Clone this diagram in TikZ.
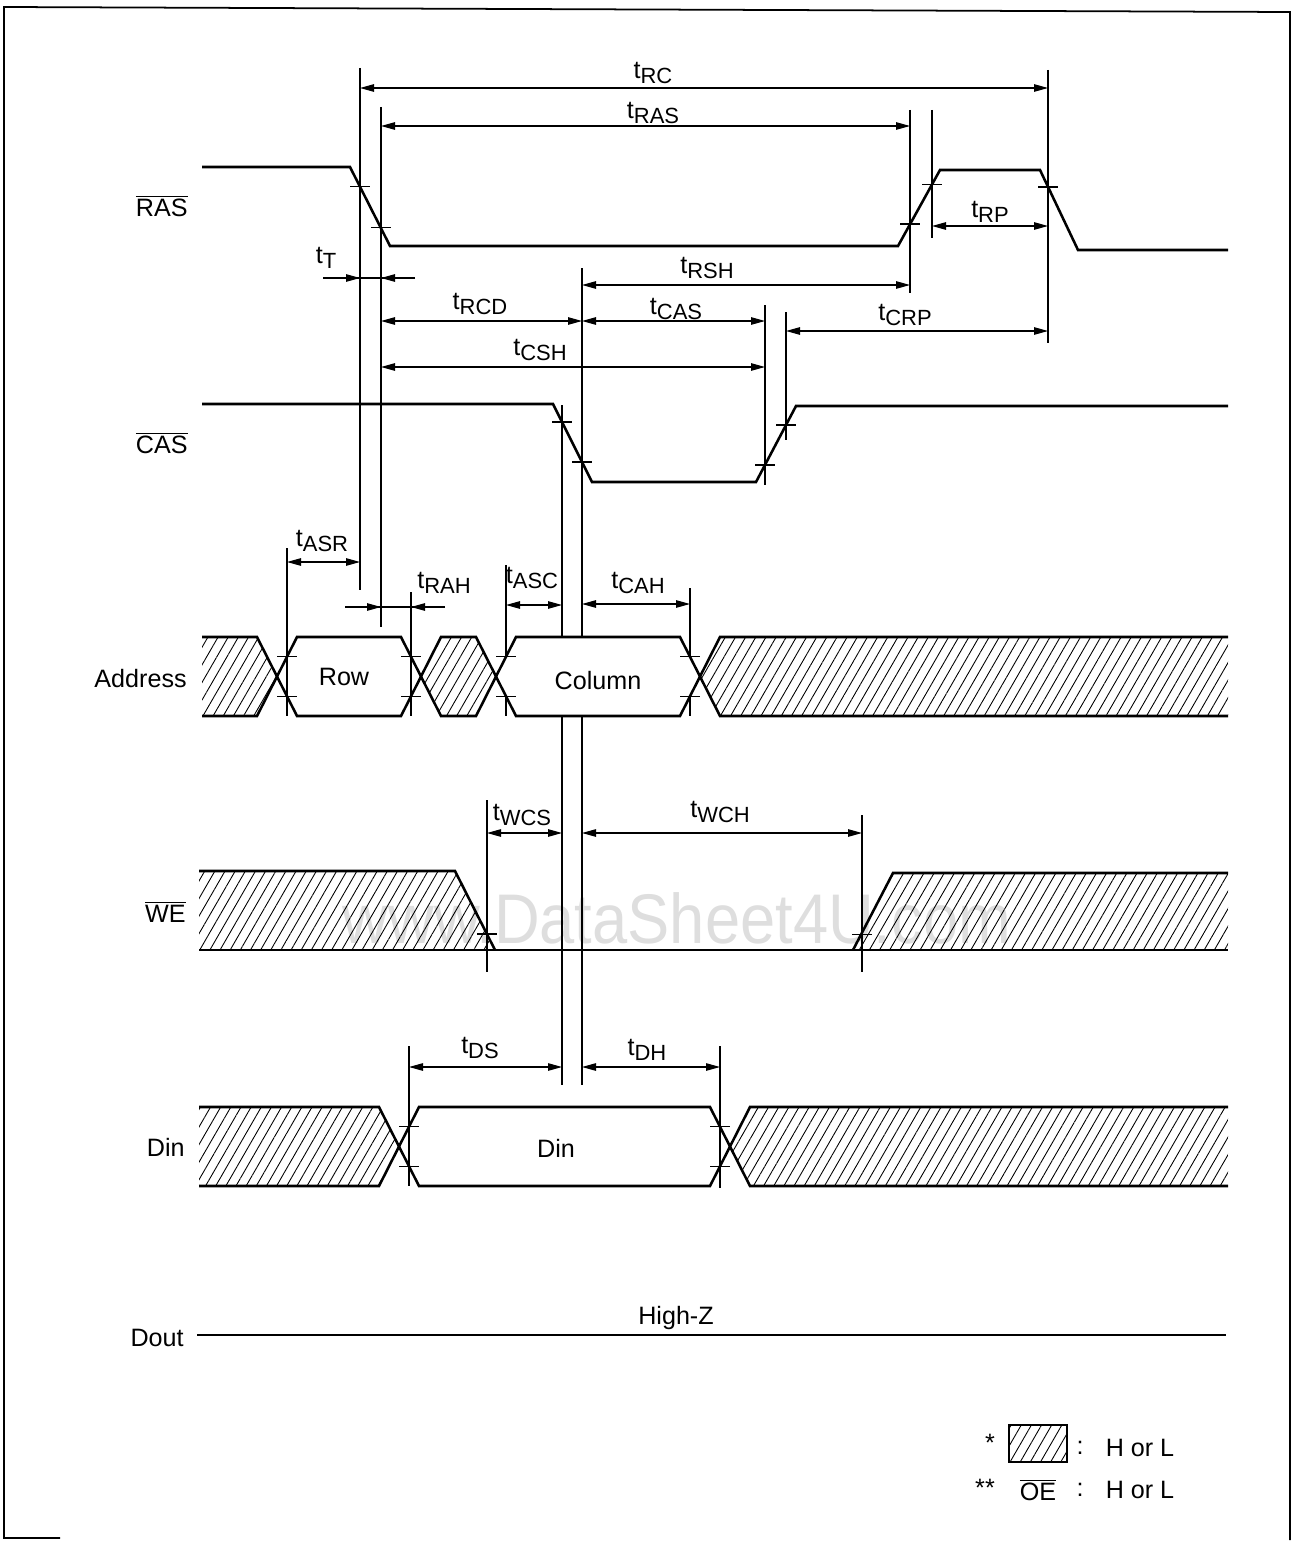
\documentclass[tikz,border=0pt]{standalone}
\usepackage{fontspec}
\setmainfont{Liberation Sans}
\usetikzlibrary{arrows.meta,patterns.meta}

\newcommand{\tsub}[1]{t\raisebox{-3.2pt}{\fontsize{12.5}{14}\selectfont #1}}
\newcommand{\ovl}[1]{$\overline{\mbox{#1}}$}

\tikzset{
  sig/.style={line width=1.45pt},
  ext/.style={line width=0.6pt},
  tip/.style={line width=0.6pt,-{Triangle[length=2.8mm,width=1.5mm]}},
  dim/.style={line width=0.6pt,{Triangle[length=2.8mm,width=1.5mm]}-{Triangle[length=2.8mm,width=1.5mm]}},
  hatch/.style={pattern={Lines[angle=60,distance=5pt,line width=0.5pt]}},
  lbl/.style={inner sep=0pt,font=\fontsize{14.3}{16}\selectfont},
  tk/.pic={\draw[ext] (-10,0) -- (10,0);},
}

\begin{document}
\begin{tikzpicture}[x=0.2mm,y=-0.2mm]
\useasboundingbox (0,0) rectangle (1293,1542);
\node[lbl,text=black!13,font=\fontsize{40}{44}\selectfont,xscale=0.9] (wmark) at (677,918) {www.DataSheet4U.com};
\draw[line width=1pt] (60,1538) -- (4,1538) -- (4,7) -- (1290,12) -- (1290,1540);

% signal names
\node[lbl,anchor=east] (nras) at (188,206) {\ovl{RAS}};
\node[lbl,anchor=east] (ncas) at (188,443) {\ovl{CAS}};
\node[lbl,anchor=east] (naddr) at (187,679) {Address};
\node[lbl,anchor=east] (nwe) at (186,912) {\ovl{WE}};
\node[lbl,anchor=east] (ndin) at (185,1147) {Din};
\node[lbl,anchor=east] (ndout) at (184,1338) {Dout};

% extension lines
\draw[ext] (360,68) -- (360,590);
\draw[ext] (381,107) -- (381,627);
\draw[ext] (910,110) -- (910,293);
\draw[ext] (932,110) -- (932,238);
\draw[ext] (1048,70) -- (1048,343);
\draw[ext] (562,405) -- (562,1085);
\draw[ext] (582,268) -- (582,1085);
\draw[ext] (765,305) -- (765,485);
\draw[ext] (786,312) -- (786,440);
\draw[ext] (287,548) -- (287,716);
\draw[ext] (411,592) -- (411,716);
\draw[ext] (506,565) -- (506,716);
\draw[ext] (690,588) -- (690,716);
\draw[ext] (487,800) -- (487,972);
\draw[ext] (862,815) -- (862,972);
\draw[ext] (409,1046) -- (409,1186);
\draw[ext] (720,1046) -- (720,1188);

% RAS, CAS
\draw[sig] (202,167) -- (350,167) -- (390,246) -- (898,246) -- (940,170) -- (1040,170) -- (1078,250) -- (1228,250);
\draw[sig] (202,404) -- (553,404) -- (592,482) -- (756,482) -- (796,406) -- (1228,406);
\pic at (360,186.5) {tk};
\pic at (381,227.5) {tk};
\pic at (910,224) {tk};
\pic at (932,184.5) {tk};
\pic at (1048,187) {tk};
\pic at (562,422) {tk};
\pic at (582,462) {tk};
\pic at (765,465) {tk};
\pic at (786,425) {tk};

% Address
\fill[white] (496,676.5) -- (516,637) -- (680,637) -- (700,676.5) -- (680,716) -- (516,716) -- cycle;
\fill[hatch] (202,637) -- (257,637) -- (277,676.5) -- (257,716) -- (202,716) -- cycle;
\fill[hatch] (421,676.5) -- (441,637) -- (476,637) -- (496,676.5) -- (476,716) -- (441,716) -- cycle;
\fill[hatch] (700,676.5) -- (720,637) -- (1228,637) -- (1228,716) -- (720,716) -- cycle;
\draw[sig] (202,637) -- (257,637) -- (297,716) -- (401,716) -- (441,637) -- (476,637) -- (516,716) -- (680,716) -- (720,637) -- (1228,637);
\draw[sig] (202,716) -- (257,716) -- (297,637) -- (401,637) -- (441,716) -- (476,716) -- (516,637) -- (680,637) -- (720,716) -- (1228,716);
\pic at (287,656.75) {tk};
\pic at (287,696.25) {tk};
\pic at (411,656.75) {tk};
\pic at (411,696.25) {tk};
\pic at (506,656.75) {tk};
\pic at (506,696.25) {tk};
\pic at (690,656.75) {tk};
\pic at (690,696.25) {tk};
\node[lbl] (row) at (344,677) {Row};
\node[lbl] (col) at (598,681) {Column};

% WE
\fill[hatch] (199,871) -- (455,871) -- (495,950) -- (199,950) -- cycle;
\fill[hatch] (853,950) -- (893,873) -- (1228,873) -- (1228,950) -- cycle;
\draw[sig] (199,871) -- (455,871) -- (495,950);
\draw[sig] (199,950) -- (1228,950);
\draw[sig] (853,950) -- (893,873) -- (1228,873);
\pic at (487,934) {tk};
\pic at (862,934.5) {tk};

% Din, Dout
\fill[hatch] (199,1107) -- (379,1107) -- (399,1146.5) -- (379,1186) -- (199,1186) -- cycle;
\fill[hatch] (730,1146.5) -- (750,1107) -- (1228,1107) -- (1228,1186) -- (750,1186) -- cycle;
\draw[sig] (199,1107) -- (379,1107) -- (419,1186) -- (710,1186) -- (750,1107) -- (1228,1107);
\draw[sig] (199,1186) -- (379,1186) -- (419,1107) -- (710,1107) -- (750,1186) -- (1228,1186);
\pic at (409,1126.75) {tk};
\pic at (409,1166.25) {tk};
\pic at (720,1126.75) {tk};
\pic at (720,1166.25) {tk};
\node[lbl] (din) at (556,1148) {Din};
\draw[sig] (197,1335) -- (1226,1335);
\node[lbl] (highz) at (676,1318) {High-Z};

% timing arrows
\draw[dim] (360,88) -- (1048,88);
\draw[dim] (381,126) -- (910,126);
\draw[dim] (932,226) -- (1048,226);
\draw[ext] (323,278) -- (415,278);
\draw[tip] (323,278) -- (360,278);
\draw[tip] (415,278) -- (381,278);
\draw[dim] (582,285) -- (910,285);
\draw[dim] (381,321) -- (582,321);
\draw[dim] (582,321) -- (765,321);
\draw[dim] (786,331) -- (1048,331);
\draw[dim] (381,367) -- (765,367);
\draw[dim] (287,562) -- (360,562);
\draw[ext] (345,607) -- (445,607);
\draw[tip] (345,607) -- (381,607);
\draw[tip] (445,607) -- (411,607);
\draw[dim] (506,605) -- (562,605);
\draw[dim] (582,604) -- (690,604);
\draw[dim] (487,833) -- (562,833);
\draw[dim] (582,833) -- (862,833);
\draw[dim] (409,1067) -- (562,1067);
\draw[dim] (582,1067) -- (720,1067);

\node[lbl] (trc) at (653,73) {\tsub{RC}};
\node[lbl] (tras) at (653,113) {\tsub{RAS}};
\node[lbl] (trp) at (990,212) {\tsub{RP}};
\node[lbl] (tt) at (326,258) {\tsub{T}};
\node[lbl] (trsh) at (707,268) {\tsub{RSH}};
\node[lbl] (trcd) at (480,304) {\tsub{RCD}};
\node[lbl] (tcas) at (676,309) {\tsub{CAS}};
\node[lbl] (tcrp) at (905,315) {\tsub{CRP}};
\node[lbl] (tcsh) at (540,350) {\tsub{CSH}};
\node[lbl] (tasr) at (322,541) {\tsub{ASR}};
\node[lbl] (trah) at (444,583) {\tsub{RAH}};
\node[lbl] (tasc) at (532,578) {\tsub{ASC}};
\node[lbl] (tcah) at (638,583) {\tsub{CAH}};
\node[lbl] (twcs) at (522,815) {\tsub{WCS}};
\node[lbl] (twch) at (720,812) {\tsub{WCH}};
\node[lbl] (tds) at (480,1048) {\tsub{DS}};
\node[lbl] (tdh) at (647,1050) {\tsub{DH}};

% legend
\node[lbl] (star1) at (990,1443) {*};
\draw[line width=0.9pt,hatch] (1009,1425) rectangle (1067,1462);
\node[lbl] (colon1) at (1080,1448) {:};
\node[lbl] (hl1) at (1140,1448) {H or L};
\node[lbl] (star2) at (985,1488) {**};
\node[lbl] (oe) at (1038,1490) {\ovl{OE}};
\node[lbl] (colon2) at (1080,1490) {:};
\node[lbl] (hl2) at (1140,1490) {H or L};
\end{tikzpicture}
\end{document}
